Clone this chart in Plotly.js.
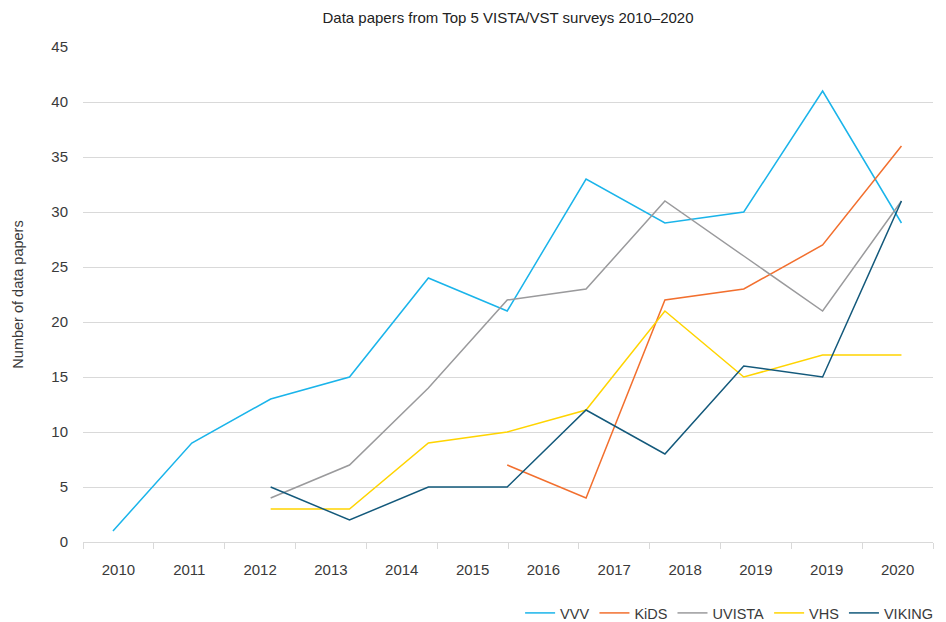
<!DOCTYPE html>
<html>
<head>
<meta charset="utf-8">
<script src="https://cdn.plot.ly/plotly-3.0.1.min.js"></script>
<style>
  html, body { margin: 0; padding: 0; background: #ffffff; }
  #chart { width: 946px; height: 622px; }
</style>
</head>
<body>
<div id="chart"></div>
<script>
// Data point positions (one per year of data)
const years = [2010, 2011, 2012, 2013, 2014, 2015, 2016, 2017, 2018, 2019, 2020];
// Category labels as printed on the axis of the reference (12 slots)
const tickLabels = ["2010", "2011", "2012", "2013", "2014", "2015", "2016", "2017", "2018", "2019", "2019", "2020"];

const vvv    = [1, 9, 13, 15, 24, 21, 33, 29, 30, 41, 29];
const kids   = [null, null, null, null, null, 7, 4, 22, 23, 27, 36];
const uvista = [null, null, 4, 7, 14, 22, 23, 31, 26, 21, 31];
const vhs    = [null, null, 3, 3, 9, 10, 12, 21, 15, 17, 17];
const viking = [null, null, 5, 2, 5, 5, 12, 8, 16, 15, 31];

const seriesNames  = ["VVV", "KiDS", "UVISTA", "VHS", "VIKING"];
const seriesValues = [vvv, kids, uvista, vhs, viking];
const seriesColors = ["#1ab4ea", "#f26f2e", "#9a9a9c", "#ffd400", "#13597b"];

const FONT = "Liberation Sans, Arial, Helvetica, sans-serif";
const TXT = "#3a3a3a";

const traces = seriesNames.map((name, i) => ({
  type: "scatter",
  mode: "lines",
  name: name,
  x: years,
  y: seriesValues[i],
  connectgaps: false,
  line: { color: seriesColors[i], width: 1.5 },
  hoverinfo: "x+y+name"
}));

// x range: the data sit inside a strip of 12 equal label slots
const xRange = [years[0] - 0.38, years[years.length - 1] + 0.40];
const slotW = (xRange[1] - xRange[0]) / tickLabels.length;
const labelPos = tickLabels.map((_, k) => xRange[0] + (k + 0.5) * slotW);

const layout = {
  width: 946,
  height: 622,
  paper_bgcolor: "#ffffff",
  plot_bgcolor: "#ffffff",
  margin: { l: 83, r: 13, t: 47, b: 80, autoexpand: false },
  font: { family: FONT, size: 15, color: TXT },
  title: {
    text: "Data papers from Top 5 VISTA/VST surveys 2010–2020",
    font: { family: FONT, size: 15, color: "#222222" },
    x: 0.5, xref: "paper", xanchor: "center",
    y: 0.972, yref: "container", yanchor: "middle"
  },
  xaxis: {
    type: "linear",
    range: xRange,
    tickmode: "array",
    tickvals: labelPos,
    ticktext: tickLabels,
    ticks: "",
    ticklabelstandoff: 14,
    tickfont: { family: FONT, size: 15, color: TXT },
    showgrid: false,
    zeroline: false,
    showline: true,
    linecolor: "#d9d9d9",
    linewidth: 1,
    minor: {
      tickmode: "linear",
      tick0: xRange[0],
      dtick: slotW,
      ticks: "outside",
      ticklen: 6,
      tickwidth: 1,
      tickcolor: "#d9d9d9",
      showgrid: false
    },
    fixedrange: true
  },
  yaxis: {
    range: [0, 45],
    tickmode: "linear",
    tick0: 0,
    dtick: 5,
    showgrid: true,
    gridcolor: "#d9d9d9",
    gridwidth: 1,
    zeroline: false,
    showline: false,
    ticks: "",
    ticklabelstandoff: 14,
    tickfont: { family: FONT, size: 15, color: TXT },
    title: {
      text: "Number of data papers",
      font: { family: FONT, size: 14.5, color: TXT },
      standoff: 24
    },
    fixedrange: true
  },
  showlegend: true,
  legend: {
    orientation: "h",
    x: 1.006,
    xanchor: "right",
    y: -0.1434,
    yanchor: "middle",
    font: { family: FONT, size: 14.5, color: TXT },
    bgcolor: "rgba(0,0,0,0)",
    traceorder: "normal"
  },
  hovermode: "closest"
};

Plotly.newPlot("chart", traces, layout, { displayModeBar: false });
</script>
</body>
</html>
